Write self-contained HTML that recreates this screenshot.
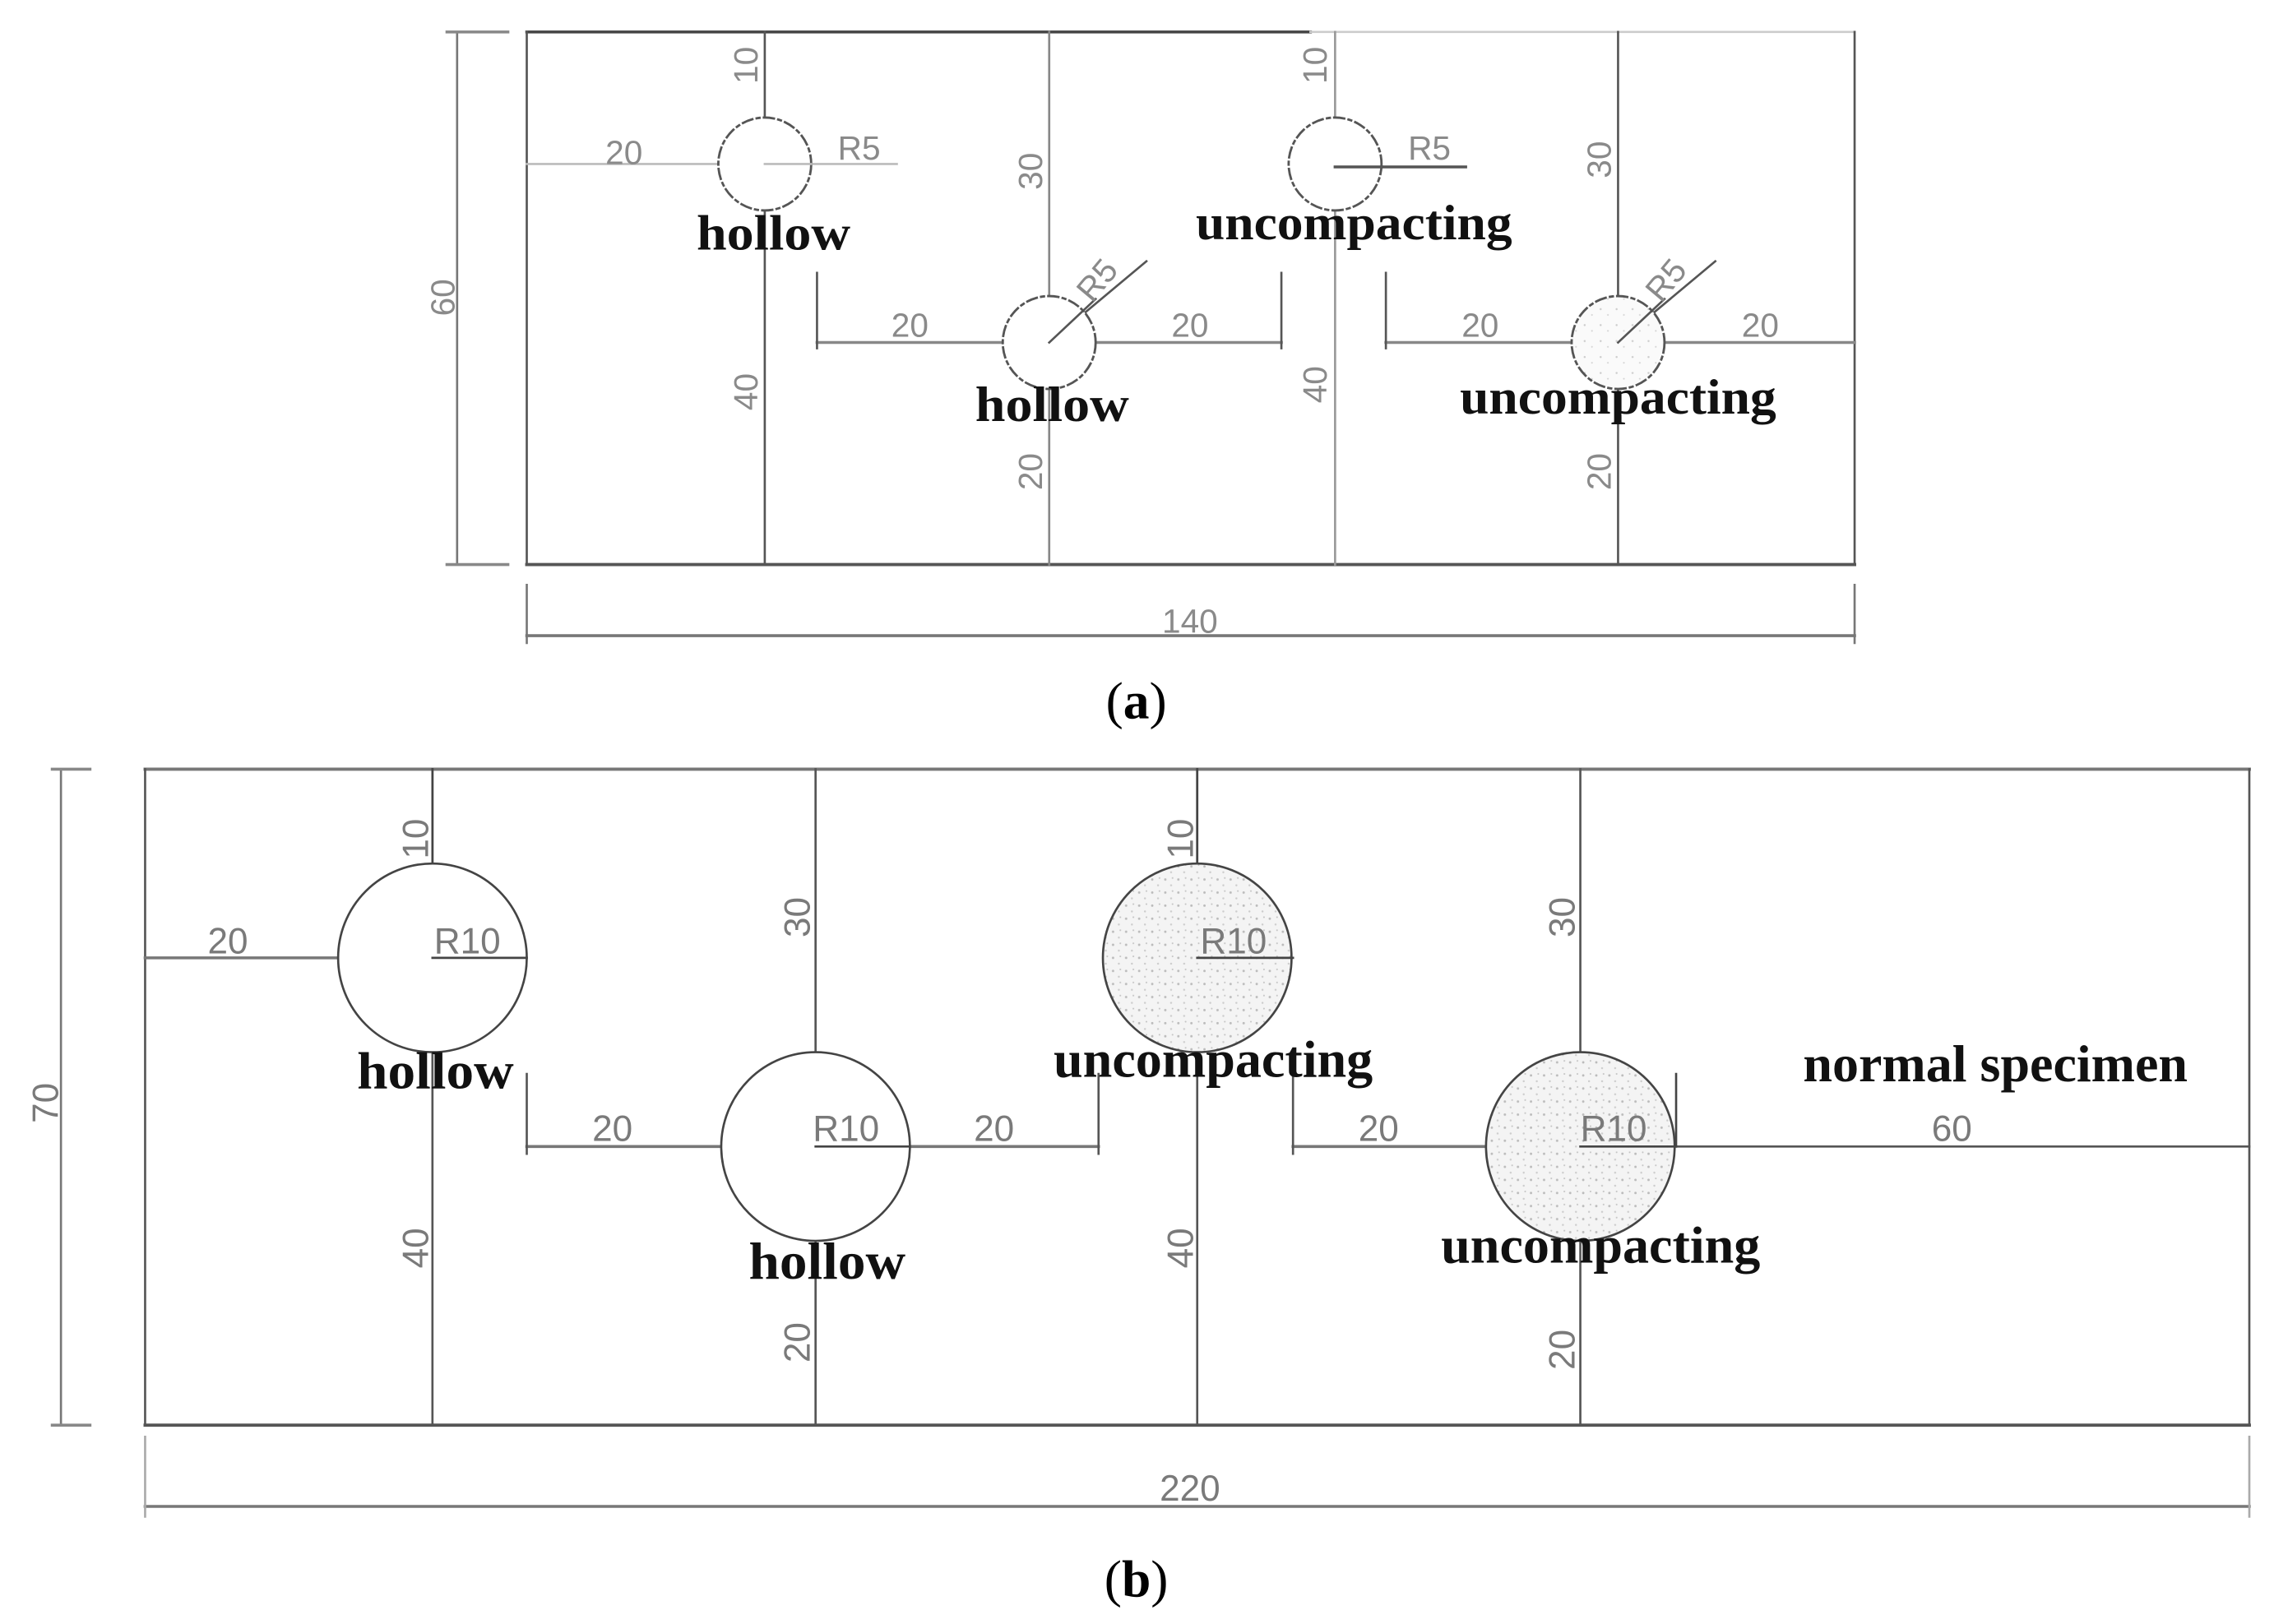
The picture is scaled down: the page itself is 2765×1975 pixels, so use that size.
<!DOCTYPE html>
<html><head><meta charset="utf-8"><style>html,body{margin:0;padding:0;background:#fff}svg{display:block}</style></head>
<body>
<svg width="2765" height="1975" viewBox="0 0 1567 1119" preserveAspectRatio="none" xmlns="http://www.w3.org/2000/svg">
<defs>
<pattern id="st" width="9" height="9" patternUnits="userSpaceOnUse">
<rect width="9" height="9" fill="#f4f4f4"/>
<circle cx="2" cy="3" r="0.8" fill="#bbb"/><circle cx="6" cy="7" r="0.7" fill="#ccc"/><circle cx="7" cy="2" r="0.6" fill="#c4c4c4"/>
</pattern>
<pattern id="st2" width="11" height="11" patternUnits="userSpaceOnUse">
<rect width="11" height="11" fill="#fafafa"/>
<circle cx="3" cy="4" r="0.7" fill="#ccc"/><circle cx="8" cy="8" r="0.6" fill="#d4d4d4"/>
</pattern>
</defs>
<g fill="none" stroke-linecap="square">
<!-- Panel a -->
<g stroke="#555" stroke-width="1.5">
<line x1="363" y1="22" x2="903" y2="22" stroke="#444" stroke-width="2"/>
<line x1="903" y1="22" x2="1278" y2="22" stroke="#ccc"/>
<line x1="363" y1="22" x2="363" y2="389"/>
<line x1="1278" y1="22" x2="1278" y2="389"/>
<line x1="363" y1="389" x2="1278" y2="389" stroke-width="2.2"/>
<line x1="527" y1="22" x2="527" y2="389"/>
<line x1="723" y1="22" x2="723" y2="389" stroke="#888"/>
<line x1="920" y1="22" x2="920" y2="389" stroke="#999"/>
<line x1="1115" y1="22" x2="1115" y2="389"/>
<line x1="315" y1="22" x2="315" y2="389" stroke="#777"/>
<line x1="308" y1="22" x2="350" y2="22" stroke="#888" stroke-width="2"/>
<line x1="308" y1="389" x2="350" y2="389" stroke="#888" stroke-width="2"/>
<line x1="363" y1="438" x2="1278" y2="438" stroke="#777" stroke-width="2"/>
<line x1="363" y1="403" x2="363" y2="443" stroke="#777"/>
<line x1="1278" y1="403" x2="1278" y2="443" stroke="#777"/>
<line x1="363" y1="113" x2="495" y2="113" stroke="#bbb"/>
<line x1="527" y1="113" x2="618" y2="113" stroke="#bbb"/>
<line x1="920" y1="115" x2="1010" y2="115" stroke="#555" stroke-width="2"/>
<line x1="563" y1="236" x2="883" y2="236" stroke="#888" stroke-width="2"/>
<line x1="563" y1="188" x2="563" y2="240"/>
<line x1="883" y1="188" x2="883" y2="240"/>
<line x1="955" y1="236" x2="1278" y2="236" stroke="#888" stroke-width="2"/>
<line x1="955" y1="188" x2="955" y2="240"/>
<line x1="723" y1="236" x2="790" y2="180"/>
<line x1="1115" y1="236" x2="1182" y2="180"/>
</g>
<g stroke="#555" stroke-width="1.6" stroke-dasharray="7 3 2 3" fill="#fff">
<circle cx="527" cy="113" r="32"/>
<circle cx="723" cy="236" r="32"/>
<circle cx="920" cy="113" r="32"/>
<circle cx="1115" cy="236" r="32" fill="url(#st2)"/>
</g>
<g stroke="#555" stroke-width="1.5">
<line x1="527" y1="113" x2="559" y2="113" stroke="#bbb"/>
<line x1="920" y1="115" x2="952" y2="115" stroke-width="2"/>
<line x1="723" y1="236" x2="755" y2="206"/>
<line x1="1115" y1="236" x2="1147" y2="206"/>
</g>
<!-- Panel b -->
<g stroke="#555" stroke-width="1.5">
<line x1="100" y1="530" x2="1550" y2="530" stroke-width="2.2" stroke="#777"/>
<line x1="100" y1="530" x2="100" y2="982"/>
<line x1="1550" y1="530" x2="1550" y2="982"/>
<line x1="100" y1="982" x2="1550" y2="982" stroke-width="2.2"/>
<line x1="298" y1="530" x2="298" y2="982"/>
<line x1="562" y1="530" x2="562" y2="982"/>
<line x1="825" y1="530" x2="825" y2="982"/>
<line x1="1089" y1="530" x2="1089" y2="982"/>
<line x1="42" y1="530" x2="42" y2="982" stroke="#777"/>
<line x1="36" y1="530" x2="62" y2="530" stroke="#888" stroke-width="2"/>
<line x1="36" y1="982" x2="62" y2="982" stroke="#888" stroke-width="2"/>
<line x1="100" y1="1038" x2="1550" y2="1038" stroke="#777" stroke-width="2"/>
<line x1="100" y1="990" x2="100" y2="1045" stroke="#aaa"/>
<line x1="1550" y1="990" x2="1550" y2="1045" stroke="#aaa"/>
<line x1="100" y1="660" x2="233" y2="660" stroke="#777" stroke-width="2"/>
<line x1="363" y1="790" x2="497" y2="790" stroke="#777" stroke-width="2"/>
<line x1="363" y1="740" x2="363" y2="795"/>
<line x1="627" y1="790" x2="757" y2="790" stroke="#777" stroke-width="2"/>
<line x1="757" y1="740" x2="757" y2="795"/>
<line x1="891" y1="790" x2="1024" y2="790" stroke="#777" stroke-width="2"/>
<line x1="891" y1="740" x2="891" y2="795"/>
<line x1="1155" y1="790" x2="1550" y2="790"/>
</g>
<g stroke="#444" stroke-width="1.5">
<circle cx="298" cy="660" r="65" fill="#fff"/>
<circle cx="562" cy="790" r="65" fill="#fff"/>
<circle cx="825" cy="660" r="65" fill="url(#st)"/>
<circle cx="1089" cy="790" r="65" fill="url(#st)"/>
<line x1="298" y1="660" x2="363" y2="660"/>
<line x1="562" y1="790" x2="627" y2="790"/>
<line x1="825" y1="660" x2="891" y2="660"/>
<line x1="1089" y1="790" x2="1155" y2="790"/>
<line x1="1155" y1="740" x2="1155" y2="790"/>
<line x1="298" y1="530" x2="298" y2="595"/>
<line x1="825" y1="530" x2="825" y2="595"/>
</g>
</g>
<g font-family="'Liberation Sans',sans-serif" fill="#8a8a8a" font-size="23" text-anchor="middle">
<text x="430" y="113">20</text>
<text x="592" y="110">R5</text>
<text x="985" y="110">R5</text>
<text x="627" y="232">20</text>
<text x="820" y="232">20</text>
<text x="1020" y="232">20</text>
<text x="1213" y="232">20</text>
<text x="820" y="436">140</text>
<text transform="translate(522,45) rotate(-90)">10</text>
<text transform="translate(718,118) rotate(-90)">30</text>
<text transform="translate(522,270) rotate(-90)">40</text>
<text transform="translate(718,325) rotate(-90)">20</text>
<text transform="translate(914,45) rotate(-90)">10</text>
<text transform="translate(914,265) rotate(-90)">40</text>
<text transform="translate(1110,110) rotate(-90)">30</text>
<text transform="translate(1110,325) rotate(-90)">20</text>
<text transform="translate(313,205) rotate(-90)">60</text>
<text transform="translate(762,198) rotate(-50)">R5</text>
<text transform="translate(1154,198) rotate(-50)">R5</text>
</g>
<g font-family="'Liberation Sans',sans-serif" fill="#7a7a7a" font-size="25" text-anchor="middle">
<text x="157" y="657">20</text>
<text x="322" y="657">R10</text>
<text x="850" y="657">R10</text>
<text x="422" y="786">20</text>
<text x="583" y="786">R10</text>
<text x="685" y="786">20</text>
<text x="950" y="786">20</text>
<text x="1112" y="786">R10</text>
<text x="1345" y="786">60</text>
<text x="820" y="1034">220</text>
<text transform="translate(295,578) rotate(-90)">10</text>
<text transform="translate(558,632) rotate(-90)">30</text>
<text transform="translate(822,578) rotate(-90)">10</text>
<text transform="translate(1085,632) rotate(-90)">30</text>
<text transform="translate(295,860) rotate(-90)">40</text>
<text transform="translate(558,925) rotate(-90)">20</text>
<text transform="translate(822,860) rotate(-90)">40</text>
<text transform="translate(1085,930) rotate(-90)">20</text>
<text transform="translate(40,760) rotate(-90)">70</text>
</g>
<g font-family="'Liberation Serif',serif" font-weight="bold" fill="#111" text-anchor="middle" font-size="34" lengthAdjust="spacingAndGlyphs">
<text x="533" y="172" textLength="106" lengthAdjust="spacingAndGlyphs">hollow</text>
<text x="933" y="165" textLength="218" lengthAdjust="spacingAndGlyphs">uncompacting</text>
<text x="725" y="290" textLength="106" lengthAdjust="spacingAndGlyphs">hollow</text>
<text x="1115" y="285" textLength="218" lengthAdjust="spacingAndGlyphs">uncompacting</text>
<text x="300" y="750" font-size="36" textLength="108" lengthAdjust="spacingAndGlyphs">hollow</text>
<text x="570" y="881" font-size="36" textLength="108" lengthAdjust="spacingAndGlyphs">hollow</text>
<text x="836" y="742" font-size="36" textLength="220" lengthAdjust="spacingAndGlyphs">uncompacting</text>
<text x="1103" y="870" font-size="36" textLength="220" lengthAdjust="spacingAndGlyphs">uncompacting</text>
<text x="1375" y="745" font-size="36" textLength="265" lengthAdjust="spacingAndGlyphs">normal specimen</text>
</g>
<g font-family="'Liberation Serif',serif" fill="#000" text-anchor="middle" font-size="36">
<text x="783" y="495">(<tspan font-weight="bold">a</tspan>)</text>
<text x="783" y="1100">(<tspan font-weight="bold">b</tspan>)</text>
</g>
</svg>
</body></html>
